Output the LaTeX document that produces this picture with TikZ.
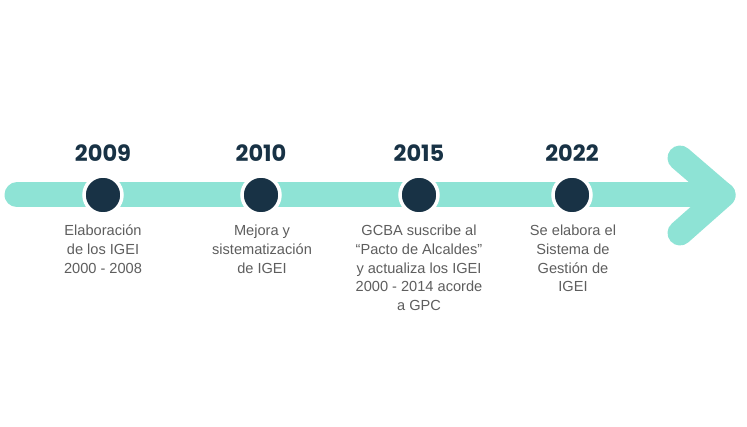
\documentclass[tikz,border=0pt]{standalone}
\usepackage{fontspec}
\setmainfont{Liberation Sans}
\newfontfamily\yearfont{Poppins}
\definecolor{barteal}{HTML}{8EE3D5}
\definecolor{navy}{HTML}{183245}
\definecolor{txtgray}{HTML}{5E5E5E}
\begin{document}
\begin{tikzpicture}[x=1pt,y=-1pt,
  year/.style={font=\yearfont\bfseries\fontsize{22.5}{24}\selectfont, text=navy, anchor=center},
  desc/.style={font=\fontsize{14.6}{18.7}\selectfont, text=txtgray, align=center, anchor=north, inner sep=0pt},
  dot/.style={circle, fill=navy, draw=white, line width=3.5pt, minimum size=38pt, inner sep=0pt},
  bar/.style={barteal, line width=25pt, line cap=round, line join=round}]
\useasboundingbox[fill=white] (0,0) rectangle (747,427);
\coordinate (start) at (17,195);
\coordinate (tip) at (723,195);
\coordinate (armtop) at (680,158);
\coordinate (armbot) at (680,233);
\draw[bar] (start) -- (tip);
\draw[bar] (armtop) -- (tip) -- (armbot);
\node[dot] (d1) at (103,195) {};
\node[dot] (d2) at (261,195) {};
\node[dot] (d3) at (419,195) {};
\node[dot] (d4) at (572,195) {};
\node[year] (y1) at (103,153) {2009};
\node[year] (y2) at (261,153) {2010};
\node[year] (y3) at (419,153) {2015};
\node[year] (y4) at (572,153) {2022};
\node[desc] (t1) at (103,225) {Elaboración\\de los IGEI\\2000 - 2008};
\node[desc] (t2) at (262,225) {Mejora y\\sistematización\\de IGEI};
\node[desc] (t3) at (419,225) {GCBA suscribe al\\“Pacto de Alcaldes”\\y actualiza los IGEI\\2000 - 2014 acorde\\a GPC};
\node[desc] (t4) at (573,225) {Se elabora el\\Sistema de\\Gestión de\\IGEI};
\end{tikzpicture}
\end{document}
